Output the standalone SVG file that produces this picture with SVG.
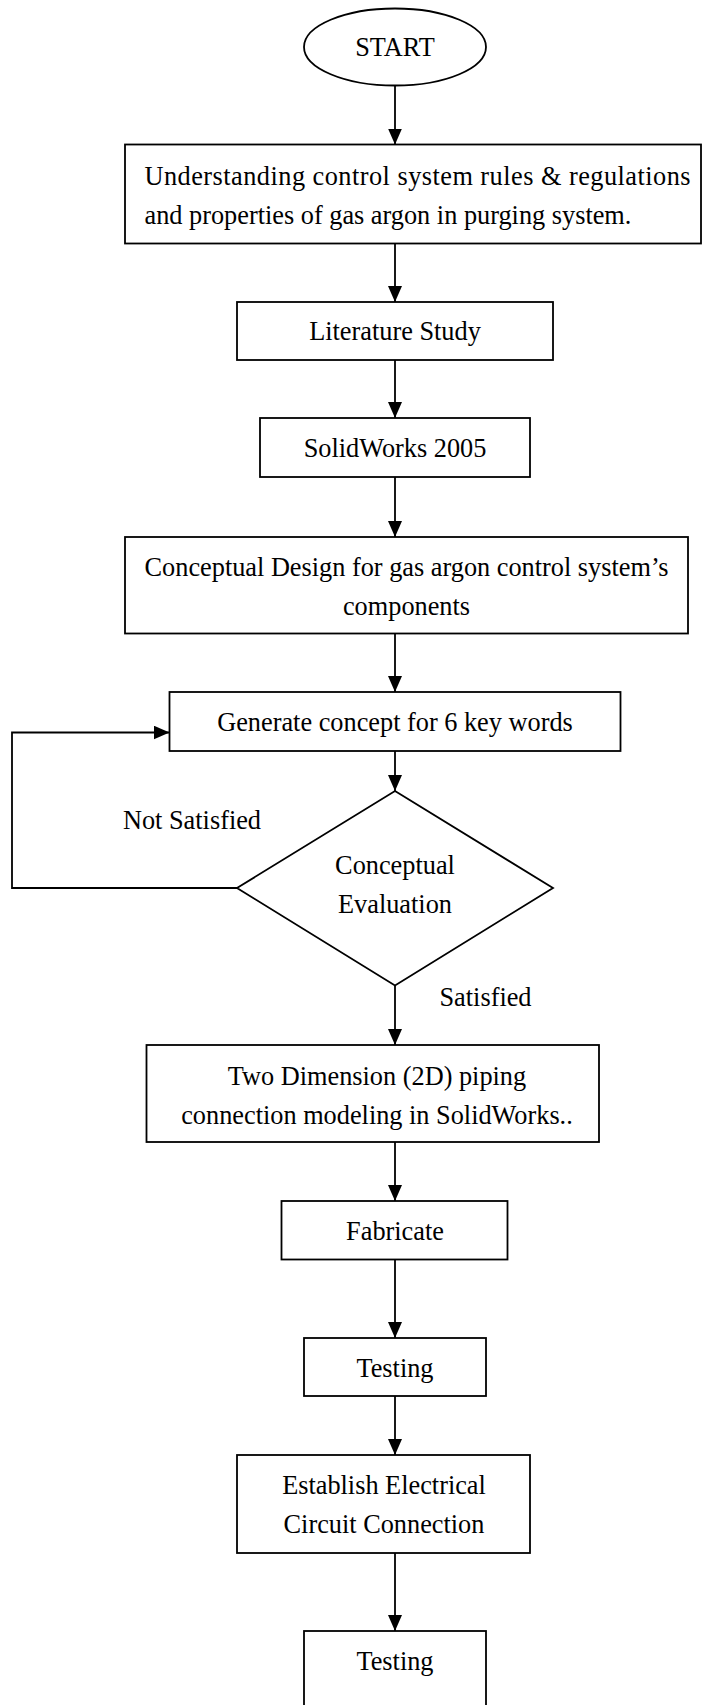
<svg xmlns="http://www.w3.org/2000/svg" width="702" height="1705" viewBox="0 0 702 1705">
<defs>
<marker id="ah" markerWidth="16" markerHeight="14" refX="16" refY="7" orient="auto" markerUnits="userSpaceOnUse">
<path d="M0,0 L16,7 L0,14 Z" fill="#000"/>
</marker>
<style>
.n{fill:#fff;stroke:#000;stroke-width:1.8}
.t{font-family:"Liberation Serif","Times New Roman",serif;font-size:26.3px;fill:#000}
.c{text-anchor:middle}
.e{fill:none;stroke:#000;stroke-width:1.8;marker-end:url(#ah)}
</style>
</defs>
<rect width="702" height="1705" fill="#fff"/>
<g id="connectors">
<line class="e" x1="395" y1="85" x2="395" y2="144.5"/>
<line class="e" x1="395" y1="243.5" x2="395" y2="302"/>
<line class="e" x1="395" y1="360" x2="395" y2="418"/>
<line class="e" x1="395" y1="477" x2="395" y2="537"/>
<line class="e" x1="395" y1="633.5" x2="395" y2="692"/>
<line class="e" x1="395" y1="751" x2="395" y2="791"/>
<line class="e" x1="395" y1="985.5" x2="395" y2="1045"/>
<line class="e" x1="395" y1="1142" x2="395" y2="1201"/>
<line class="e" x1="395" y1="1259.5" x2="395" y2="1338"/>
<line class="e" x1="395" y1="1396" x2="395" y2="1455"/>
<line class="e" x1="395" y1="1553" x2="395" y2="1631"/>
<polyline class="e" points="237,888 12,888 12,732.5 169.5,732.5"/>
<text class="t c" x="192" y="829">Not Satisfied</text>
<text class="t c" x="485.5" y="1006">Satisfied</text>
</g>
<g id="start">
<ellipse class="n" cx="395" cy="47" rx="91" ry="38.5"/>
<text class="t c" x="395" y="56">START</text>
</g>
<g id="understanding">
<rect class="n" x="125" y="144.5" width="576" height="99"/>
<text class="t" x="144.5" y="185" textLength="546" lengthAdjust="spacing">Understanding control system rules &amp; regulations</text>
<text class="t" x="144.5" y="224">and properties of gas argon in purging system.</text>
</g>
<g id="literature">
<rect class="n" x="237" y="302" width="316" height="58"/>
<text class="t c" x="395" y="340">Literature Study</text>
</g>
<g id="solidworks">
<rect class="n" x="260" y="418" width="270" height="59"/>
<text class="t c" x="395" y="457">SolidWorks 2005</text>
</g>
<g id="conceptual-design">
<rect class="n" x="125" y="537" width="563" height="96.5"/>
<text class="t c" x="406.5" y="576">Conceptual Design for gas argon control system’s</text>
<text class="t c" x="406.5" y="615">components</text>
</g>
<g id="generate">
<rect class="n" x="169.5" y="692" width="451" height="59"/>
<text class="t c" x="395" y="731">Generate concept for 6 key words</text>
</g>
<g id="evaluation">
<polygon class="n" points="395,791 553,888 395,985.5 237,888"/>
<text class="t c" x="395" y="874">Conceptual</text>
<text class="t c" x="395" y="913">Evaluation</text>
</g>
<g id="modeling">
<rect class="n" x="146.5" y="1045" width="452.5" height="97"/>
<text class="t c" x="377" y="1085">Two Dimension (2D) piping</text>
<text class="t c" x="377" y="1124">connection modeling in SolidWorks..</text>
</g>
<g id="fabricate">
<rect class="n" x="281.5" y="1201" width="226" height="58.5"/>
<text class="t c" x="395" y="1240">Fabricate</text>
</g>
<g id="testing1">
<rect class="n" x="304" y="1338" width="182" height="58"/>
<text class="t c" x="395" y="1377">Testing</text>
</g>
<g id="electrical">
<rect class="n" x="237" y="1455" width="293" height="98"/>
<text class="t c" x="384" y="1494">Establish Electrical</text>
<text class="t c" x="384" y="1533">Circuit Connection</text>
</g>
<g id="testing2">
<rect class="n" x="304" y="1631" width="182" height="80"/>
<text class="t c" x="395" y="1670">Testing</text>
</g>
</svg>
